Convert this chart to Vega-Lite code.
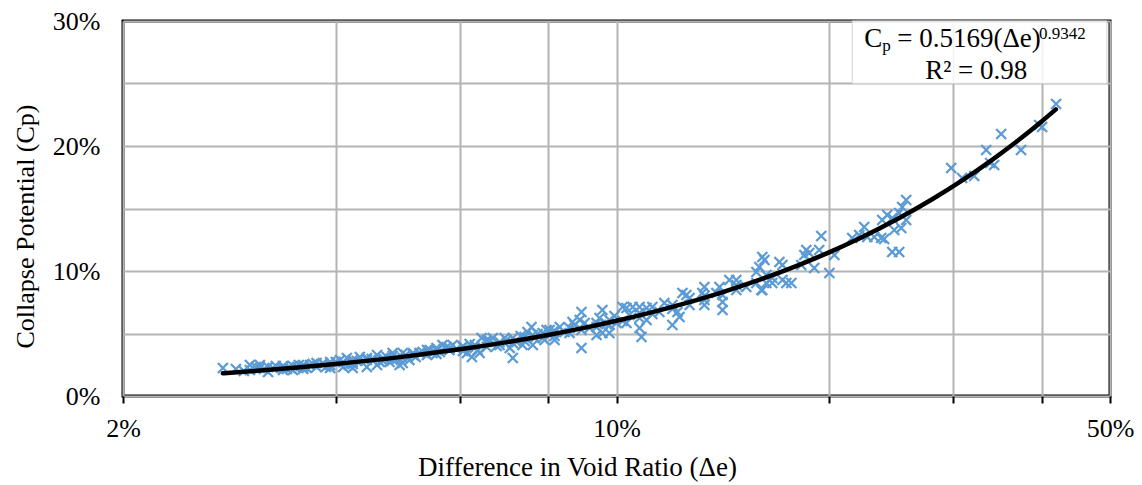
{
  "$schema": "https://vega.github.io/schema/vega-lite/v6.json",
  "width": 987,
  "height": 375,
  "autosize": {"type": "none"},
  "padding": {"left": 123, "top": 21, "right": 32, "bottom": 89},
  "background": "white",
  "config": {
    "view": {"stroke": "black", "strokeWidth": 3},
    "font": "Liberation Serif"
  },
  "datasets": {
    "pts": [
      {"de":0.4194,"cp":0.2336},{"de":0.3968,"cp":0.2168},{"de":0.4007,"cp":0.2152},{"de":0.3506,"cp":0.2096},
      {"de":0.3741,"cp":0.1968},{"de":0.3339,"cp":0.1968},{"de":0.3427,"cp":0.1848},{"de":0.3382,"cp":0.1864},
      {"de":0.3211,"cp":0.176},{"de":0.3087,"cp":0.1744},{"de":0.2979,"cp":0.1824},{"de":0.2572,"cp":0.1568},
      {"de":0.2539,"cp":0.1512},{"de":0.2514,"cp":0.1464},{"de":0.2572,"cp":0.1408},{"de":0.2531,"cp":0.1344},
      {"de":0.2474,"cp":0.1328},{"de":0.2514,"cp":0.1152},{"de":0.2458,"cp":0.1152},{"de":0.2379,"cp":0.1408},
      {"de":0.2418,"cp":0.1448},{"de":0.2458,"cp":0.1424},{"de":0.2371,"cp":0.1264},{"de":0.2318,"cp":0.1272},
      {"de":0.2394,"cp":0.1256},{"de":0.2243,"cp":0.1352},{"de":0.2266,"cp":0.1272},{"de":0.2157,"cp":0.1264},
      {"de":0.2207,"cp":0.1288},{"de":0.2035,"cp":0.1128},{"de":0.2002,"cp":0.0984},{"de":0.1950,"cp":0.128},
      {"de":0.1937,"cp":0.1168},{"de":0.1906,"cp":0.1024},{"de":0.1857,"cp":0.1168},{"de":0.1845,"cp":0.1128},
      {"de":0.1875,"cp":0.1144},{"de":0.1827,"cp":0.1048},{"de":0.1769,"cp":0.0904},{"de":0.1740,"cp":0.0904},
      {"de":0.1718,"cp":0.1048},{"de":0.1701,"cp":0.1072},{"de":0.1662,"cp":0.0904},{"de":0.1630,"cp":0.0968},
      {"de":0.1609,"cp":0.0848},{"de":0.1620,"cp":0.1088},
      {"de":0.1609,"cp":0.1112},{"de":0.1593,"cp":0.1032},{"de":0.1578,"cp":0.0992},{"de":0.1718,"cp":0.0928},
      {"de":0.1630,"cp":0.0904},{"de":0.1604,"cp":0.0848},{"de":0.1527,"cp":0.0872},{"de":0.1478,"cp":0.0928},
      {"de":0.1445,"cp":0.0928},{"de":0.1413,"cp":0.0752},{"de":0.1413,"cp":0.0688},{"de":0.1385,"cp":0.0824},
      {"de":0.1399,"cp":0.0872},{"de":0.1332,"cp":0.0872},{"de":0.1323,"cp":0.0824},{"de":0.1332,"cp":0.0728},
      {"de":0.1256,"cp":0.0808},{"de":0.1240,"cp":0.0824},{"de":0.1269,"cp":0.0784},{"de":0.1220,"cp":0.0672},
      {"de":0.1200,"cp":0.0568},{"de":0.1228,"cp":0.0632},{"de":0.1169,"cp":0.0744},{"de":0.1150,"cp":0.0672},
      {"de":0.1124,"cp":0.0712},{"de":0.1103,"cp":0.0704},{"de":0.1078,"cp":0.0712},{"de":0.1054,"cp":0.0712},
      {"de":0.1033,"cp":0.0704},{"de":0.1020,"cp":0.0712},{"de":0.1103,"cp":0.0608},{"de":0.1085,"cp":0.0472},
      {"de":0.1078,"cp":0.0544},{"de":0.1043,"cp":0.0648},{"de":0.1033,"cp":0.0584},{"de":0.1000,"cp":0.0584},
      {"de":0.0955,"cp":0.0688},{"de":0.0937,"cp":0.0584},{"de":0.0955,"cp":0.0504},{"de":0.0977,"cp":0.0504},
      {"de":0.0937,"cp":0.0488},
      {"de":0.0892,"cp":0.0672},{"de":0.0887,"cp":0.0608},{"de":0.0901,"cp":0.0584},{"de":0.0872,"cp":0.0568},
      {"de":0.0892,"cp":0.0384},{"de":0.0858,"cp":0.0504},{"de":0.0831,"cp":0.0552},{"de":0.0812,"cp":0.0512},
      {"de":0.0796,"cp":0.0528},{"de":0.0817,"cp":0.0448},{"de":0.0786,"cp":0.0464},{"de":0.0758,"cp":0.0552},
      {"de":0.0748,"cp":0.0512},{"de":0.0741,"cp":0.0472},{"de":0.0766,"cp":0.0464},{"de":0.0761,"cp":0.0408},
      {"de":0.0736,"cp":0.0408},{"de":0.0713,"cp":0.0304},{"de":0.0706,"cp":0.0384},{"de":0.0699,"cp":0.0448},
      {"de":0.0683,"cp":0.0432},{"de":0.0668,"cp":0.0464},{"de":0.0655,"cp":0.0448},{"de":0.0644,"cp":0.0464},
      {"de":0.0640,"cp":0.0344},{"de":0.0630,"cp":0.0384},{"de":0.0614,"cp":0.0344},{"de":0.0624,"cp":0.0312},
      {"de":0.0606,"cp":0.0392},{"de":0.0586,"cp":0.0408},{"de":0.0580,"cp":0.0368},{"de":0.0567,"cp":0.0408},
      {"de":0.0556,"cp":0.0384},{"de":0.0549,"cp":0.0344},{"de":0.0539,"cp":0.0368},{"de":0.0526,"cp":0.0344},
      {"de":0.0515,"cp":0.0328},{"de":0.0505,"cp":0.0304},{"de":0.0498,"cp":0.0264},{"de":0.0509,"cp":0.0288},
      {"de":0.0277,"cp":0.0224},{"de":0.03025,"cp":0.0248},{"de":0.03125,"cp":0.0248},{"de":0.0321,"cp":0.0232},
      {"de":0.0326,"cp":0.0224},{"de":0.0337,"cp":0.0232},{"de":0.0345,"cp":0.0224},{"de":0.0353,"cp":0.0232},
      {"de":0.0360,"cp":0.0232},{"de":0.0368,"cp":0.0248},{"de":0.0376,"cp":0.0232},{"de":0.0384,"cp":0.0264},
      {"de":0.0393,"cp":0.0248},{"de":0.0348,"cp":0.0208},{"de":0.0406,"cp":0.0288},{"de":0.0415,"cp":0.0304},
      {"de":0.0423,"cp":0.0272},{"de":0.0433,"cp":0.0312},{"de":0.0443,"cp":0.0288},{"de":0.0458,"cp":0.0328},
      {"de":0.0467,"cp":0.0304},{"de":0.0482,"cp":0.0344},{"de":0.0498,"cp":0.0344},{"de":0.0493,"cp":0.0248},
      {"de":0.0477,"cp":0.0272},{"de":0.0458,"cp":0.0248},{"de":0.0423,"cp":0.0224},{"de":0.0443,"cp":0.0232},
      {"de":0.0410,"cp":0.0232},{"de":0.0393,"cp":0.0224},
      {"de":0.03125,"cp":0.0224},{"de":0.0321,"cp":0.0192},{"de":0.0337,"cp":0.0208},{"de":0.0348,"cp":0.024},
      {"de":0.0360,"cp":0.0216},{"de":0.0376,"cp":0.0264},{"de":0.0393,"cp":0.0272},{"de":0.0410,"cp":0.0272},
      {"de":0.0423,"cp":0.0288},{"de":0.0443,"cp":0.0304},{"de":0.0467,"cp":0.028},{"de":0.0482,"cp":0.032},
      {"de":0.0498,"cp":0.0304},{"de":0.0515,"cp":0.0344},{"de":0.0539,"cp":0.0328},{"de":0.0556,"cp":0.0336},
      {"de":0.0580,"cp":0.0384},{"de":0.0606,"cp":0.036},{"de":0.0630,"cp":0.0408},{"de":0.0655,"cp":0.0392},
      {"de":0.0683,"cp":0.0408},{"de":0.0713,"cp":0.0424},{"de":0.0741,"cp":0.044},{"de":0.0761,"cp":0.0488},
      {"de":0.0786,"cp":0.0504},{"de":0.0817,"cp":0.048},{"de":0.0858,"cp":0.0544},{"de":0.0892,"cp":0.0528},
      {"de":0.0937,"cp":0.0552},{"de":0.0977,"cp":0.0568},{"de":0.1020,"cp":0.06},{"de":0.1078,"cp":0.0624},
      {"de":0.1124,"cp":0.0656},{"de":0.1200,"cp":0.0696},{"de":0.1269,"cp":0.0728},{"de":0.1332,"cp":0.0768},
      {"de":0.1413,"cp":0.0808},{"de":0.1478,"cp":0.0848},{"de":0.1578,"cp":0.0904},{"de":0.1662,"cp":0.0944},
      {"de":0.03025,"cp":0.0208},{"de":0.0337,"cp":0.024},{"de":0.0360,"cp":0.0248},{"de":0.0423,"cp":0.0256},
      {"de":0.0482,"cp":0.0288},{"de":0.0556,"cp":0.0368},{"de":0.0606,"cp":0.04},{"de":0.0655,"cp":0.0432},
      {"de":0.0713,"cp":0.0464},{"de":0.0817,"cp":0.052},{"de":0.0977,"cp":0.0608},{"de":0.1078,"cp":0.0664},
      {"de":0.1200,"cp":0.0728},{"de":0.1332,"cp":0.08},{"de":0.1478,"cp":0.0888},
      {"de":0.0289,"cp":0.0216},{"de":0.02966,"cp":0.02},{"de":0.03085,"cp":0.0232},{"de":0.03166,"cp":0.0216},
      {"de":0.03292,"cp":0.024},{"de":0.03413,"cp":0.0216},{"de":0.03549,"cp":0.0248},{"de":0.03642,"cp":0.0224},
      {"de":0.03714,"cp":0.0256},{"de":0.03875,"cp":0.0232},{"de":0.04003,"cp":0.0272},{"de":0.04176,"cp":0.0248},
      {"de":0.04287,"cp":0.028},{"de":0.04501,"cp":0.0296},{"de":0.0462,"cp":0.0272},{"de":0.04727,"cp":0.0312},
      {"de":0.04883,"cp":0.0296},{"de":0.05029,"cp":0.0328},{"de":0.05195,"cp":0.0312},{"de":0.05315,"cp":0.0352},
      {"de":0.05438,"cp":0.0368},{"de":0.05618,"cp":0.0352},{"de":0.05747,"cp":0.0392},{"de":0.05938,"cp":0.0376},
      {"de":0.06195,"cp":0.0416},{"de":0.06358,"cp":0.0368},{"de":0.06612,"cp":0.044},{"de":0.06764,"cp":0.04},
      {"de":0.06943,"cp":0.0464},{"de":0.0722,"cp":0.0432},{"de":0.07315,"cp":0.048},{"de":0.07731,"cp":0.0496},
      {"de":0.07909,"cp":0.0448},{"de":0.08039,"cp":0.0528},{"de":0.08441,"cp":0.0512},{"de":0.08665,"cp":0.0592},
      {"de":0.09158,"cp":0.0544},{"de":0.09461,"cp":0.0624},{"de":0.0968,"cp":0.0576},{"de":0.09935,"cp":0.064}
    ],
    "fit": [
      {"de":0.0277,"cp":0.01814},{"de":0.03,"cp":0.01953},{"de":0.035,"cp":0.02256},{"de":0.04,"cp":0.02556},
      {"de":0.05,"cp":0.03149},{"de":0.06,"cp":0.03732},{"de":0.07,"cp":0.0431},{"de":0.08,"cp":0.04883},
      {"de":0.09,"cp":0.05451},{"de":0.10,"cp":0.06015},{"de":0.12,"cp":0.07132},{"de":0.14,"cp":0.08236},
      {"de":0.16,"cp":0.09331},{"de":0.18,"cp":0.10416},{"de":0.20,"cp":0.11494},{"de":0.22,"cp":0.12564},
      {"de":0.25,"cp":0.14156},{"de":0.28,"cp":0.15739},{"de":0.31,"cp":0.17308},{"de":0.34,"cp":0.18868},
      {"de":0.37,"cp":0.20418},{"de":0.40,"cp":0.21961},{"de":0.419,"cp":0.22933}
    ],
    "box": [{"de":0.2157,"de2":0.495,"cp":0.3,"cp2":0.25}],
    "ann": [
      {"t":"C","de":0.2243,"cp":0.2792,"part":"big"},
      {"t":"= 0.5169(Δe)","de":0.2498,"cp":0.2792,"part":"big"},
      {"t":"R² = 0.98","de":0.2737,"cp":0.2536,"part":"big"},
      {"t":"p","de":0.2379,"cp":0.276,"part":"small"},
      {"t":"0.9342","de":0.3967,"cp":0.2856,"part":"small"}
    ]
  },
  "encoding": {
    "x": {
      "field": "de", "type": "quantitative",
      "scale": {"type": "log", "base": 5, "domain": [0.02, 0.5], "nice": false},
      "axis": {
        "values": [0.02, 0.04, 0.06, 0.08, 0.1, 0.2, 0.3, 0.4, 0.5],
        "labelExpr": "abs(datum.value-0.02)<1e-6 ? '2%' : abs(datum.value-0.1)<1e-6 ? '10%' : abs(datum.value-0.5)<1e-6 ? '50%' : ''",
        "domain": false,
        "grid": true, "gridColor": "#b4b4b4", "gridWidth": 2, "gridOpacity": 1,
        "ticks": true, "tickColor": "black", "tickWidth": 2, "tickSize": 7,
        "labelFont": "Liberation Serif", "labelFontSize": 26, "labelColor": "black",
        "labelPadding": 12, "labelFlush": false, "labelOverlap": false, "labelBound": false,
        "title": "Difference in Void Ratio (Δe)",
        "titleFont": "Liberation Serif", "titleFontSize": 27, "titleFontWeight": "normal", "titleColor": "black",
        "titleX": 454, "titleY": 79, "titleAlign": "center", "titleBaseline": "alphabetic", "titleAnchor": null
      }
    },
    "y": {
      "field": "cp", "type": "quantitative",
      "scale": {"domain": [0, 0.3], "nice": false, "zero": true},
      "axis": {
        "values": [0, 0.05, 0.1, 0.15, 0.2, 0.25, 0.3],
        "labelExpr": "abs(datum.value*10 - round(datum.value*10))<1e-6 ? format(datum.value, '.0%') : ''",
        "domain": false,
        "grid": true, "gridColor": "#b4b4b4", "gridWidth": 2, "gridOpacity": 1,
        "ticks": false,
        "labelFont": "Liberation Serif", "labelFontSize": 26, "labelColor": "black",
        "labelPadding": 23, "labelFlush": false, "labelOverlap": false, "labelBound": false,
        "title": "Collapse Potential (Cp)",
        "titleFont": "Liberation Serif", "titleFontSize": 26, "titleFontWeight": "normal", "titleColor": "black",
        "titleX": -90, "titleY": 205, "titleAngle": -90, "titleAlign": "center", "titleBaseline": "alphabetic", "titleAnchor": null
      }
    }
  },
  "layer": [
    {
      "data": {"name": "pts"},
      "mark": {"type": "point", "shape": "M-1,-1L1,1M1,-1L-1,1", "filled": false, "stroke": "#5b9bd5", "strokeWidth": 2.3, "size": 100, "opacity": 1}
    },
    {
      "data": {"name": "fit"},
      "mark": {"type": "line", "color": "black", "strokeWidth": 4.5, "interpolate": "monotone", "strokeCap": "round"}
    },
    {
      "data": {"name": "box"},
      "mark": {"type": "rect", "fill": "white", "fillOpacity": 0.85, "stroke": "#d4d4d4", "strokeWidth": 1},
      "encoding": {"x2": {"field": "de2"}, "y2": {"field": "cp2"}}
    },
    {
      "data": {"name": "ann"},
      "transform": [{"filter": "datum.part == 'big'"}],
      "mark": {"type": "text", "font": "Liberation Serif", "fontSize": 27, "align": "left", "baseline": "alphabetic", "color": "black"},
      "encoding": {"text": {"field": "t"}}
    },
    {
      "data": {"name": "ann"},
      "transform": [{"filter": "datum.part == 'small'"}],
      "mark": {"type": "text", "font": "Liberation Serif", "fontSize": 17, "align": "left", "baseline": "alphabetic", "color": "black"},
      "encoding": {"text": {"field": "t"}}
    }
  ]
}
